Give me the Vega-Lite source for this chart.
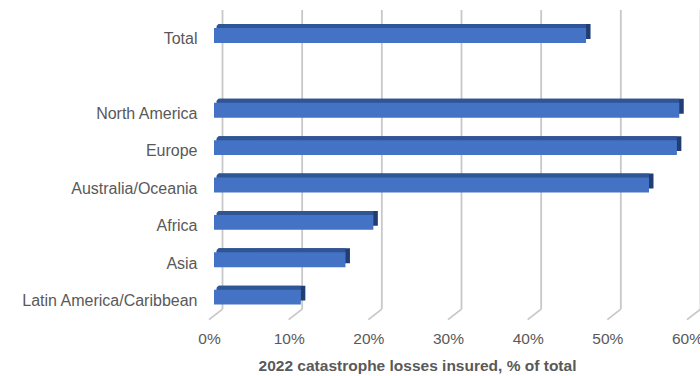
{
  "$schema": "https://vega.github.io/schema/vega-lite/v6.json",
  "autosize": {"type": "none"},
  "width": 478,
  "height": 299,
  "padding": {"left": 209, "top": 20.6, "right": 13, "bottom": 56.4},
  "background": "white",
  "config": {"view": {"stroke": null}, "font": "Liberation Sans"},
  "datasets": {
    "regions": [
      {"region": "Total", "share": 0.467},
      {"region": "North America", "share": 0.584},
      {"region": "Europe", "share": 0.581},
      {"region": "Australia/Oceania", "share": 0.546},
      {"region": "Africa", "share": 0.200},
      {"region": "Asia", "share": 0.165},
      {"region": "Latin America/Caribbean", "share": 0.109}
    ],
    "ticks": [
      {"v": 0}, {"v": 0.1}, {"v": 0.2}, {"v": 0.3}, {"v": 0.4}, {"v": 0.5}, {"v": 0.6}
    ]
  },
  "encoding": {
    "x": {
      "type": "quantitative",
      "scale": {"domain": [0, 0.6], "nice": false, "zero": true},
      "axis": {
        "values": [0, 0.1, 0.2, 0.3, 0.4, 0.5, 0.6],
        "format": ".0%",
        "grid": false, "domain": false, "ticks": false,
        "labelFlush": false, "labelOverlap": false, "labelBound": false,
        "labelFontSize": 15.5, "labelColor": "#595959", "labelPadding": 12, "labelDx": 1,
        "title": "2022 catastrophe losses insured, % of total",
        "titleFontSize": 15.5, "titleFontWeight": "bold", "titleColor": "#595959",
        "titlePadding": 11, "titleX": 208
      }
    }
  },
  "layer": [
    {
      "data": {"name": "ticks"},
      "mark": {"type": "rule", "color": "#C8C8C8", "strokeWidth": 1.8, "xOffset": 13.5, "yOffset": -10.5, "y2Offset": -10.5},
      "encoding": {
        "x": {"field": "v", "type": "quantitative"},
        "y": {"value": 0},
        "y2": {"value": "height"}
      }
    },
    {
      "data": {"name": "ticks"},
      "mark": {"type": "rule", "color": "#C8C8C8", "strokeWidth": 1.8, "xOffset": 13.5, "yOffset": -10.5},
      "encoding": {
        "x": {"field": "v", "type": "quantitative"},
        "x2": {"field": "v"},
        "y": {"value": "height"},
        "y2": {"value": "height"}
      }
    },
    {
      "data": {"name": "regions"},
      "layer": [
        {
          "mark": {"type": "bar", "color": "#203D74", "xOffset": 9.5, "x2Offset": 9.5, "yOffset": -7.8, "y2Offset": -7.8},
          "encoding": {
            "x": {"field": "share", "type": "quantitative"},
            "x2": {"datum": 0}
          }
        },
        {
          "mark": {"type": "bar", "color": "#2F5597", "xOffset": 5, "x2Offset": 7.5, "yOffset": -7.8, "y2Offset": -7.8, "cornerRadiusTopLeft": 3},
          "encoding": {
            "x": {"field": "share", "type": "quantitative"},
            "x2": {"datum": 0}
          }
        },
        {
          "mark": {"type": "bar", "color": "#4472C4", "xOffset": 5, "x2Offset": 5, "yOffset": -3.8, "y2Offset": -3.8},
          "encoding": {
            "x": {"field": "share", "type": "quantitative"},
            "x2": {"datum": 0}
          }
        }
      ],
      "encoding": {
        "y": {
          "field": "region", "type": "nominal",
          "scale": {
            "domain": ["Total", " ", "North America", "Europe", "Australia/Oceania", "Africa", "Asia", "Latin America/Caribbean"],
            "paddingInner": 0.6, "paddingOuter": 0.3
          },
          "axis": {
            "title": null, "domain": false, "ticks": false, "grid": false,
            "labelFontSize": 16, "labelColor": "#595959", "labelPadding": 12
          }
        }
      }
    }
  ]
}
